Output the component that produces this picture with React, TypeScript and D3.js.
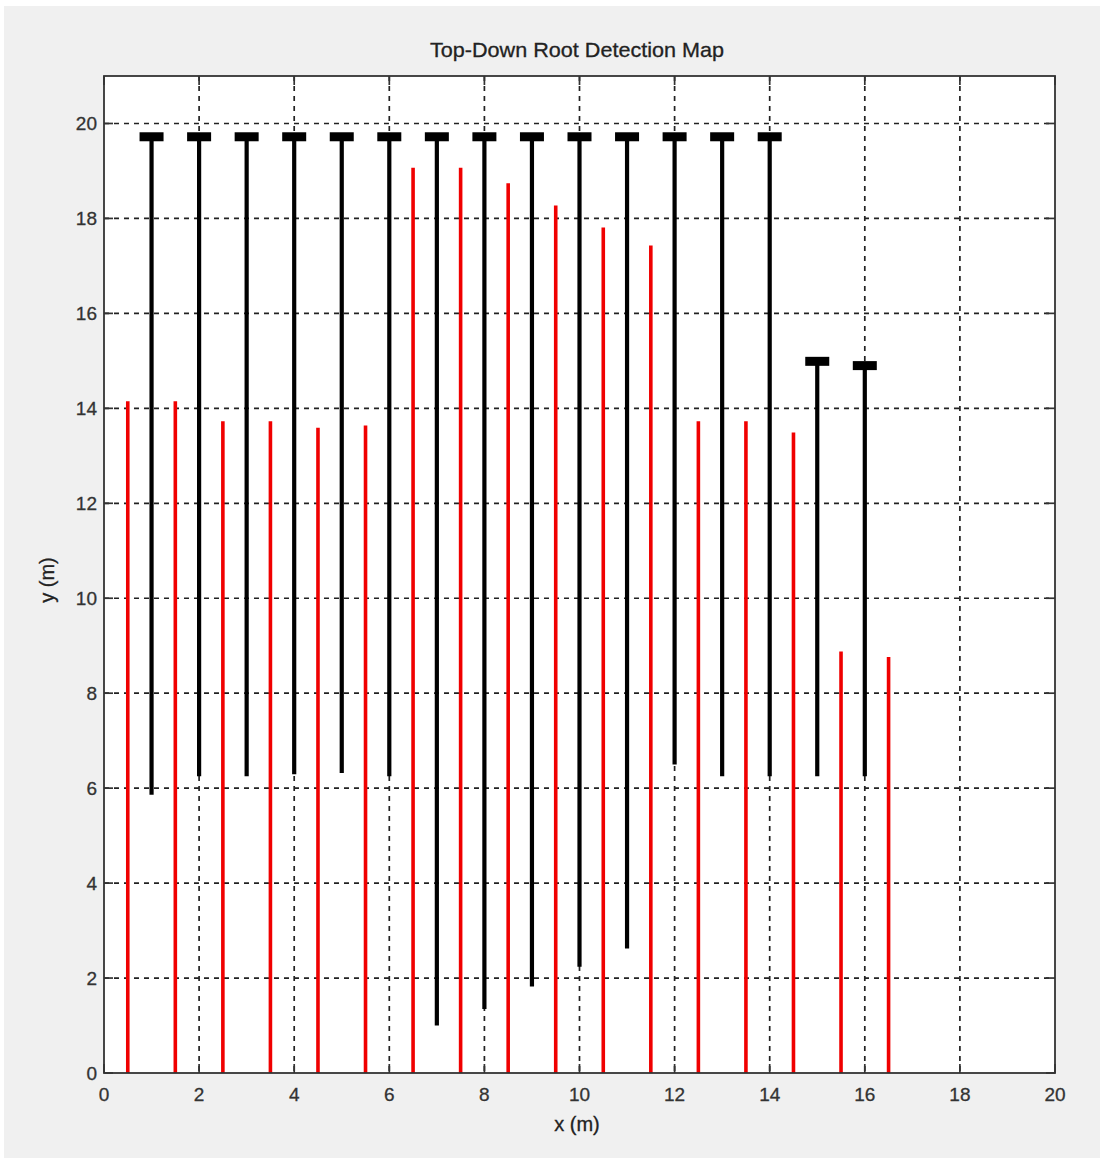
import React from "react";
import * as d3 from "d3";

// Black roots (detected by top-down scan): x position, top (cap) y, bottom y
const blackX = [1, 2, 3, 4, 5, 6, 7, 8, 9, 10, 11, 12, 13, 14, 15, 16];
const blackTop = [19.72, 19.72, 19.72, 19.72, 19.72, 19.72, 19.72, 19.72, 19.72, 19.72, 19.72, 19.72, 19.72, 19.72, 14.99, 14.9];
const blackBottom = [5.86, 6.25, 6.25, 6.29, 6.32, 6.25, 1.0, 1.35, 1.82, 2.24, 2.62, 6.5, 6.25, 6.25, 6.25, 6.25];

// Red roots (true roots): x position, top y (they start at 0)
const redX = [0.5, 1.5, 2.5, 3.5, 4.5, 5.5, 6.5, 7.5, 8.5, 9.5, 10.5, 11.5, 12.5, 13.5, 14.5, 15.5, 16.5];
const redTop = [14.15, 14.15, 13.73, 13.73, 13.59, 13.64, 19.07, 19.07, 18.74, 18.27, 17.81, 17.43, 13.73, 13.73, 13.49, 8.88, 8.76];

const xTicks = [0, 2, 4, 6, 8, 10, 12, 14, 16, 18, 20];
const yTicks = [0, 2, 4, 6, 8, 10, 12, 14, 16, 18, 20];

const W = 1100;
const H = 1158;
const L = 104, R = 1055, T = 76, B = 1073;

export default function App() {
  const x = d3.scaleLinear().domain([0, 20]).range([L, R]);
  const y = d3.scaleLinear().domain([0, 21]).range([B, T]);
  const font = "'Liberation Sans', Arial, sans-serif";
  const tickLen = 9;
  return (
    <svg width={W} height={H} style={{ position: "absolute", left: 0, top: 0, display: "block" }}>
      <rect x={0} y={0} width={W} height={H} fill="#ffffff" />
      <rect x={4} y={6} width={W - 4} height={H - 6} fill="#f0f0f0" />
      <rect x={L} y={T} width={R - L} height={B - T} fill="#ffffff" />
      {/* grid */}
      {xTicks.filter((t) => t > 0 && t < 20).map((t) => (
        <line key={"gx" + t} x1={x(t)} x2={x(t)} y1={T} y2={B} stroke="#222" strokeWidth={1.7} strokeDasharray="5,5" />
      ))}
      {yTicks.filter((t) => t > 0).map((t) => (
        <line key={"gy" + t} x1={L} x2={R} y1={y(t)} y2={y(t)} stroke="#222" strokeWidth={1.7} strokeDasharray="5,5" />
      ))}
      {/* red roots */}
      {redX.map((v, i) => (
        <line key={"r" + i} x1={x(v)} x2={x(v)} y1={y(0)} y2={y(redTop[i])} stroke="#f00000" strokeWidth={3.6} />
      ))}
      {/* black roots */}
      {blackX.map((v, i) => (
        <g key={"b" + i}>
          <line x1={x(v)} x2={x(v)} y1={y(blackBottom[i])} y2={y(blackTop[i])} stroke="#000" strokeWidth={4.2} />
          <rect x={x(v) - 12} y={y(blackTop[i]) - 4.5} width={24} height={9} fill="#000" />
        </g>
      ))}
      {/* ticks */}
      {xTicks.map((t) => (
        <g key={"tx" + t}>
          <line x1={x(t)} x2={x(t)} y1={B} y2={B - tickLen} stroke="#333" strokeWidth={1.7} />
          <line x1={x(t)} x2={x(t)} y1={T} y2={T + tickLen} stroke="#333" strokeWidth={1.7} />
          <text x={x(t)} y={B + 28} textAnchor="middle" fontFamily={font} fontSize={19} fill="#333" stroke="#333" strokeWidth={0.3}>{t}</text>
        </g>
      ))}
      {yTicks.map((t) => (
        <g key={"ty" + t}>
          <line x1={L} x2={L + tickLen} y1={y(t)} y2={y(t)} stroke="#333" strokeWidth={1.7} />
          <line x1={R} x2={R - tickLen} y1={y(t)} y2={y(t)} stroke="#333" strokeWidth={1.7} />
          <text x={L - 7} y={y(t) + 7} textAnchor="end" fontFamily={font} fontSize={19} fill="#333" stroke="#333" strokeWidth={0.3}>{t}</text>
        </g>
      ))}
      {/* axes box */}
      <rect x={L} y={T} width={R - L} height={B - T} fill="none" stroke="#333" strokeWidth={1.8} />
      {/* labels */}
      <text x={577} y={57} textAnchor="middle" fontFamily={font} fontSize={21} fill="#222" stroke="#222" strokeWidth={0.3} textLength={294} lengthAdjust="spacingAndGlyphs">Top-Down Root Detection Map</text>
      <text x={577} y={1131} textAnchor="middle" fontFamily={font} fontSize={20} fill="#222" stroke="#222" strokeWidth={0.3}>x (m)</text>
      <text transform={`translate(54, 580) rotate(-90)`} textAnchor="middle" fontFamily={font} fontSize={20} fill="#222" stroke="#222" strokeWidth={0.3}>y (m)</text>
    </svg>
  );
}
